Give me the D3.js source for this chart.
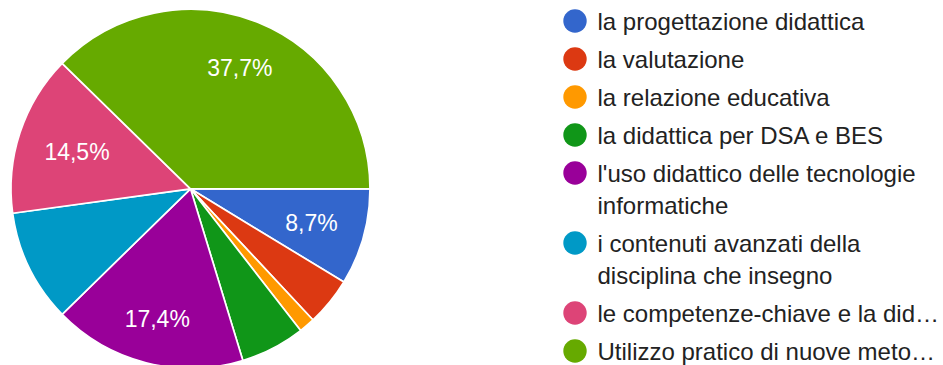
<!DOCTYPE html>
<html>
<head>
<meta charset="utf-8">
<script src="https://cdn.jsdelivr.net/npm/d3@7"></script>
<style>
  html, body { margin: 0; padding: 0; background: #fff; }
  svg { display: block; }
</style>
</head>
<body>
<svg id="chart" width="943" height="365"></svg>
<script>
// Response counts per training topic
const categories = [
  "la progettazione didattica",
  "la valutazione",
  "la relazione educativa",
  "la didattica per DSA e BES",
  "l'uso didattico delle tecnologie informatiche",
  "i contenuti avanzati della disciplina che insegno",
  "le competenze-chiave e la did…",
  "Utilizzo pratico di nuove meto…"
];
const counts = [6, 3, 1, 4, 12, 7, 10, 26];
const colors = ["#3366cc", "#dc3912", "#ff9900", "#109618", "#990099", "#0099c6", "#dd4477", "#66aa00"];
// Legend text split into display lines
const legendLines = [
  ["la progettazione didattica"],
  ["la valutazione"],
  ["la relazione educativa"],
  ["la didattica per DSA e BES"],
  ["l'uso didattico delle tecnologie", "informatiche"],
  ["i contenuti avanzati della", "disciplina che insegno"],
  ["le competenze-chiave e la did…"],
  ["Utilizzo pratico di nuove meto…"]
];
// Slices that carry an in-slice percentage label
const labelledSlices = [0, 4, 6, 7];

const svg = d3.select("#chart");
const font = "'Liberation Sans', Arial, sans-serif";

const cx = 190.5, cy = 188.8, radius = 179.5;
const labelFontSize = 23;
// the outermost corner of each percentage label sits on this radius
const labelOuter = 0.853 * radius;
const total = d3.sum(counts);
const data = categories.map((c, i) => ({ name: c, value: counts[i], color: colors[i], idx: i }));

const pie = d3.pie()
  .value(d => d.value)
  .sort(null)
  .startAngle(Math.PI / 2)
  .endAngle(Math.PI / 2 + 2 * Math.PI);

const arc = d3.arc().innerRadius(0).outerRadius(radius);

const g = svg.append("g").attr("transform", `translate(${cx},${cy})`);
const arcs = pie(data);

g.selectAll("path.slice")
  .data(arcs)
  .join("path")
  .attr("class", "slice")
  .attr("d", arc)
  .attr("fill", d => d.data.color)
  .attr("stroke", "#fff")
  .attr("stroke-width", 1.7)
  .attr("stroke-linejoin", "round");

const fmt = v => (v / total * 100).toFixed(1).replace(".", ",") + "%";

const labels = g.selectAll("text.pct")
  .data(arcs.filter(d => labelledSlices.includes(d.data.idx)))
  .join("text")
  .attr("class", "pct")
  .attr("text-anchor", "middle")
  .attr("dy", "0.36em")
  .attr("fill", "#fff")
  .attr("font-family", font)
  .attr("font-size", labelFontSize)
  .text(d => fmt(d.data.value));

// push each label out along the slice bisector until its far corner reaches labelOuter
labels.attr("transform", function(d) {
  const a = (d.startAngle + d.endAngle) / 2;
  const ux = Math.sin(a), uy = -Math.cos(a);
  const w = this.getComputedTextLength(), h = 0.72 * labelFontSize;
  const c = [Math.sign(ux) * w / 2, Math.sign(uy) * h / 2];
  const uc = ux * c[0] + uy * c[1];
  const cc = c[0] * c[0] + c[1] * c[1];
  const t = -uc + Math.sqrt(uc * uc - cc + labelOuter * labelOuter);
  return `translate(${t * ux},${t * uy})`;
});

// Legend
const legendX = 575, textX = 597.5, firstY = 21, lineH = 32, itemGap = 6;
const legend = svg.append("g");
let y = firstY;
data.forEach((d, i) => {
  const item = legend.append("g");
  item.append("circle")
    .attr("cx", legendX)
    .attr("cy", y)
    .attr("r", 11.7)
    .attr("fill", d.color);
  legendLines[i].forEach((line, j) => {
    item.append("text")
      .attr("x", textX)
      .attr("y", y + j * lineH)
      .attr("dy", "0.36em")
      .attr("fill", "#222")
      .attr("font-family", font)
      .attr("font-size", 24)
      .text(line);
  });
  y += legendLines[i].length * lineH + itemGap;
});
</script>
</body>
</html>
